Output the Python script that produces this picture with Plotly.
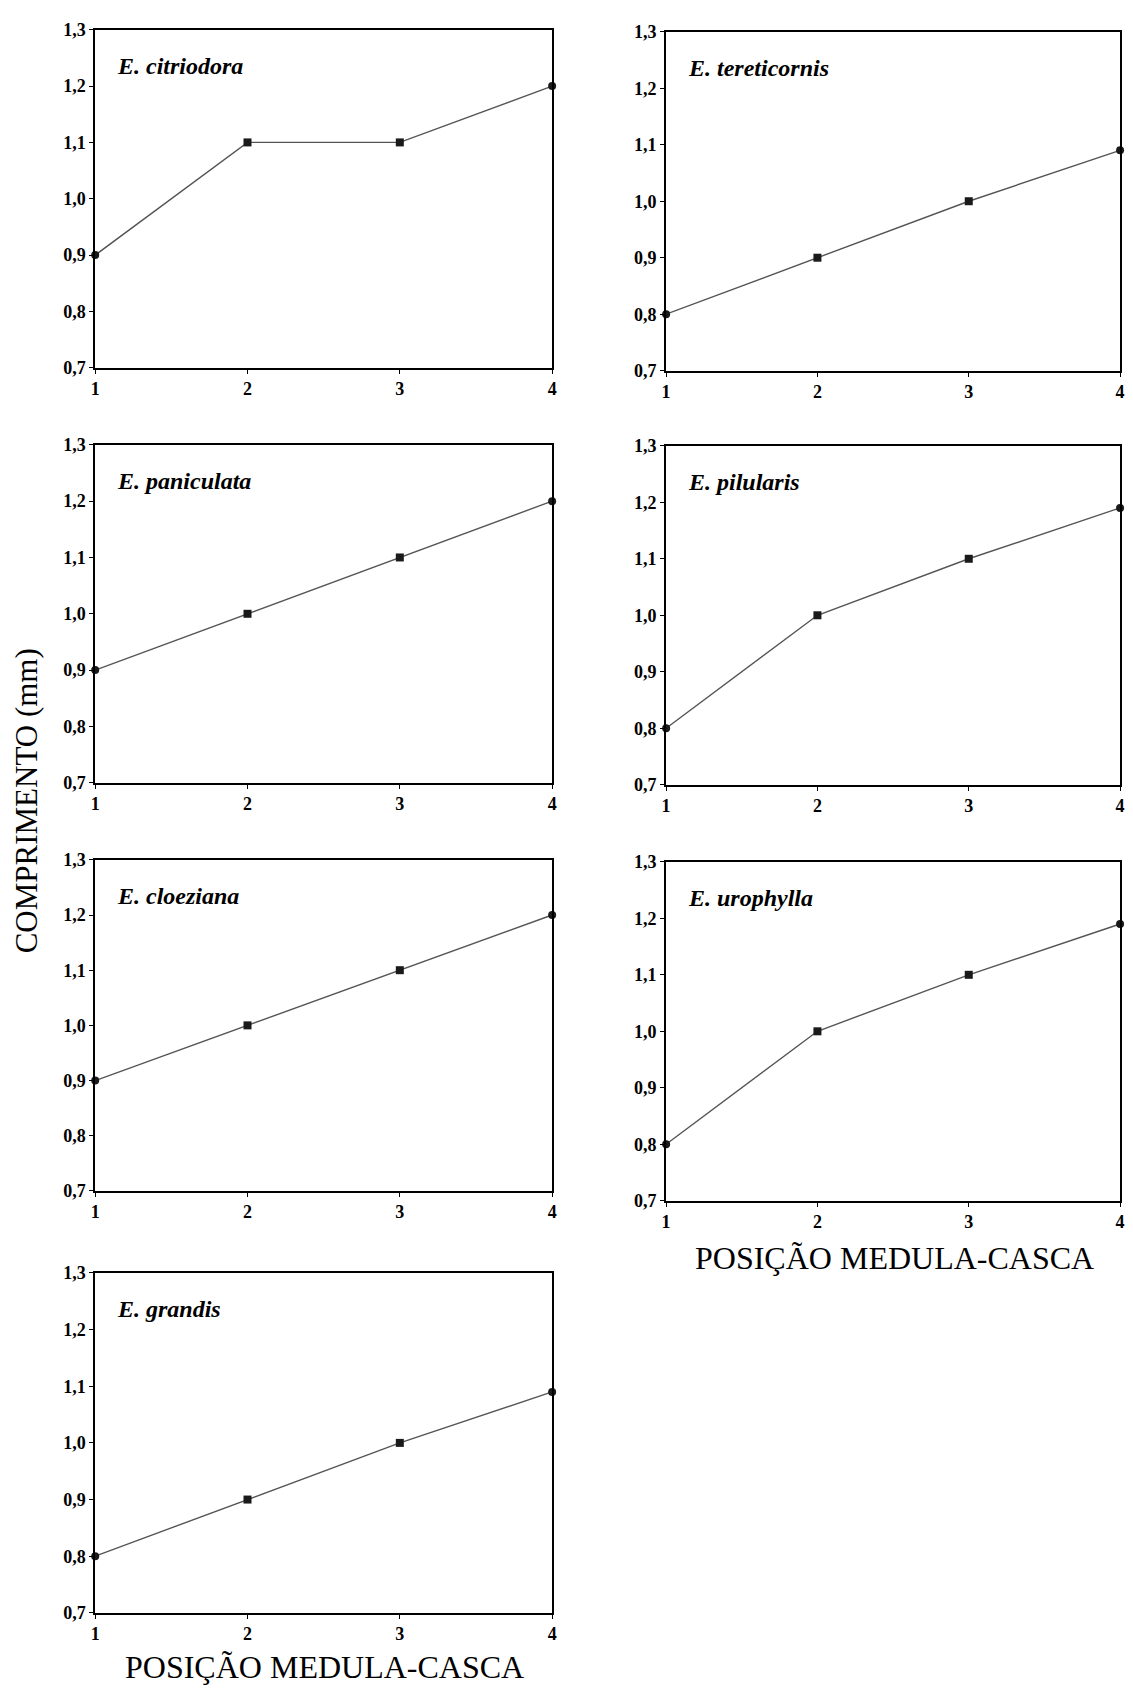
import plotly.graph_objects as go

positions = [1, 2, 3, 4]
species = ["E. citriodora", "E. tereticornis", "E. paniculata", "E. pilularis",
           "E. cloeziana", "E. urophylla", "E. grandis"]
citriodora = [0.90, 1.10, 1.10, 1.20]
tereticornis = [0.80, 0.90, 1.00, 1.09]
paniculata = [0.90, 1.00, 1.10, 1.20]
pilularis = [0.80, 1.00, 1.10, 1.19]
cloeziana = [0.90, 1.00, 1.10, 1.20]
urophylla = [0.80, 1.00, 1.10, 1.19]
grandis = [0.80, 0.90, 1.00, 1.09]
series = [citriodora, tereticornis, paniculata, pilularis, cloeziana, urophylla, grandis]

y_tickvals = [0.7, 0.8, 0.9, 1.0, 1.1, 1.2, 1.3]
y_ticktext = ["0,7", "0,8", "0,9", "1,0", "1,1", "1,2", "1,3"]
x_ticktext = ["1", "2", "3", "4"]

W, H = 1133, 1695
# panel boxes in pixels: (left, right, top, bottom)
boxes = [
    (91, 552, 20, 362),
    (667, 1125, 22, 365),
    (91, 552, 440, 782),
    (667, 1125, 441, 784),
    (91, 552, 860, 1195),
    (667, 1125, 862, 1205),
    (91, 552, 1278, 1622),
]

fig = go.Figure()
tickfont = dict(family="Liberation Serif", size=18, color="black", weight="bold")
for i, (name, vals) in enumerate(zip(species, series)):
    k = i + 1
    xa = "x" if k == 1 else f"x{k}"
    ya = "y" if k == 1 else f"y{k}"
    l, r, t, b = boxes[i]
    fig.add_trace(go.Scatter(
        x=positions, y=vals, mode="lines+markers", xaxis=xa, yaxis=ya,
        line=dict(color="#555555", width=1.4),
        marker=dict(symbol=["circle", "square", "square", "circle"], size=8, color="#1a1a1a"),
        cliponaxis=False, showlegend=False, hoverinfo="x+y"))
    axkw = dict(showline=True, mirror=True, linecolor="black", linewidth=1.8,
                ticks="outside", ticklen=4, tickwidth=1, tickcolor="black",
                showgrid=False, zeroline=False, tickfont=tickfont)
    fig.update_layout(**{
        ("xaxis" if k == 1 else f"xaxis{k}"): dict(
            domain=[l / W, r / W], anchor=ya, range=[1, 4],
            tickvals=positions, ticktext=x_ticktext, **axkw),
        ("yaxis" if k == 1 else f"yaxis{k}"): dict(
            domain=[1 - b / H, 1 - t / H], anchor=xa, range=[0.7, 1.3],
            tickvals=y_tickvals, ticktext=y_ticktext, **axkw),
    })
    fig.add_annotation(
        x=(l + 20) / W, y=1 - (t + 37) / H, xref="paper", yref="paper",
        text=f"<b><i>{name}</i></b>", showarrow=False, xanchor="left", yanchor="middle",
        font=dict(family="Liberation Serif", size=24, color="black"))

fig.add_annotation(x=22 / W, y=1 - 800 / H, xref="paper", yref="paper",
                   text="COMPRIMENTO (mm)", textangle=-90, showarrow=False,
                   xanchor="center", yanchor="middle",
                   font=dict(family="Liberation Serif", size=31, color="black"))
fig.add_annotation(x=322 / W, y=1 - 1677 / H, xref="paper", yref="paper",
                   text="POSIÇÃO MEDULA-CASCA", showarrow=False,
                   xanchor="center", yanchor="middle",
                   font=dict(family="Liberation Serif", size=32, color="black"))
fig.add_annotation(x=897 / W, y=1 - 1263 / H, xref="paper", yref="paper",
                   text="POSIÇÃO MEDULA-CASCA", showarrow=False,
                   xanchor="center", yanchor="middle",
                   font=dict(family="Liberation Serif", size=32, color="black"))

fig.update_layout(width=W, height=H, margin=dict(l=0, r=0, t=0, b=0),
                  paper_bgcolor="white", plot_bgcolor="white")
fig.write_html("out.html",
               post_script="document.body.style.margin='0px';document.body.style.overflow='hidden';")
